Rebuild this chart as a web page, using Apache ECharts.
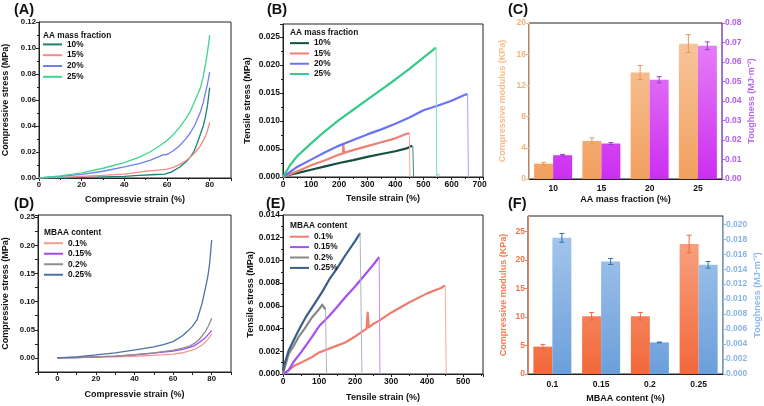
<!DOCTYPE html>
<html><head><meta charset="utf-8">
<script src="https://cdn.jsdelivr.net/npm/echarts@6/dist/echarts.min.js"></script>
<style>html,body{margin:0;padding:0;background:#fff}#c{width:764px;height:406px}</style>
</head><body><div id="c"></div>
<script>
// ---------- DATA ----------
// (A) compressive stress-strain, AA mass fraction
const A_10 = [[0,0],[10,0.0002],[20,0.0005],[30,0.0009],[40,0.0013],[47,0.002],[55,0.0027],[59,0.003],[62,0.0045],[66,0.0085],[69,0.0125],[71,0.0162],[72.5,0.02],[74,0.026],[75.6,0.0335],[77,0.04],[78,0.047],[79,0.056],[80,0.0695]];
const A_15 = [[0,0],[10,0.0005],[20,0.0013],[30,0.002],[40,0.003],[47,0.0045],[52,0.0055],[57,0.0063],[60,0.0068],[63,0.0082],[66,0.0105],[69,0.0135],[71,0.0162],[73.3,0.0198],[75.6,0.0245],[78,0.032],[79,0.0365],[80,0.0428]];
const A_20 = [[0,0],[10,0.0012],[20,0.0028],[30,0.0052],[40,0.0085],[47,0.0111],[52,0.0135],[56.8,0.0168],[58.6,0.0182],[59.2,0.0195],[59.6,0.0178],[61,0.019],[63,0.021],[66,0.025],[69,0.0305],[71,0.035],[73,0.0405],[75.6,0.0505],[77,0.058],[78,0.0655],[79,0.0725],[80,0.0814]];
const A_25 = [[0,0],[10,0.0016],[20,0.004],[30,0.0075],[40,0.0118],[47.4,0.0162],[52,0.02],[56.8,0.025],[60,0.0288],[63,0.0335],[66.2,0.0395],[69,0.046],[71,0.0515],[73,0.059],[75.6,0.069],[77,0.078],[78,0.087],[79,0.097],[80,0.110]];
// (B) tensile stress-strain, AA mass fraction
const B_10 = [[0,0],[25,0.0004],[50,0.0007],[100,0.0013],[150,0.0019],[200,0.0025],[250,0.003],[300,0.0036],[350,0.0041],[400,0.0046],[440,0.0051],[460,0.0056]];
const B_15 = [[0,0],[50,0.001],[100,0.0021],[150,0.003],[200,0.004],[213,0.0042],[215,0.0057],[217,0.0043],[250,0.0048],[300,0.0055],[350,0.0062],[400,0.0069],[440,0.0077],[450,0.0078]];
const B_20 = [[0,0],[50,0.0018],[100,0.0031],[150,0.0044],[200,0.0056],[250,0.0066],[300,0.0076],[350,0.0085],[400,0.0095],[450,0.0106],[500,0.0119],[550,0.0127],[600,0.0136],[650,0.0147],[657,0.0148]];
const B_25 = [[0,0],[25,0.0021],[50,0.0037],[100,0.006],[150,0.0082],[200,0.0102],[250,0.012],[300,0.0138],[350,0.0156],[400,0.0174],[450,0.0193],[500,0.0213],[540,0.0229],[545,0.0231]];
const B_10_drop = [[462,0.0055],[465,0]];
const B_15_drop = [[450,0.0078],[452,0]];
const B_20_drop = [[657,0.0148],[660,0]];
const B_25_drop = [[545,0.0231],[547,0],[550,0.0004],[556,0.0003],[560,0.0004]];
// (C) bars, AA mass fraction
const catsC = ['10','15','20','25'];
const modC = [1.97,4.88,13.66,17.35];
const modCErr = [0.17,0.4,0.9,1.15];
const toughC = [0.0122,0.0182,0.0509,0.0683];
const toughCErr = [0.0004,0.0005,0.0016,0.002];
// (D) compressive stress-strain, MBAA content
const D_01 = [[0,0],[10,0.0005],[20,0.0012],[30,0.002],[40,0.003],[50,0.0045],[56,0.0058],[60,0.0066],[65,0.0092],[67,0.011],[70,0.014],[72.4,0.0172],[75,0.023],[76.7,0.028],[78,0.033],[79,0.0375],[80,0.0426]];
const D_015 = [[0,0],[10,0.0008],[20,0.0018],[30,0.0032],[40,0.0056],[50,0.0085],[60,0.012],[65,0.0152],[70.6,0.021],[73,0.026],[76.7,0.036],[78,0.041],[79,0.0445],[80,0.0486]];
const D_02 = [[0,0],[10,0.0008],[20,0.0018],[30,0.0033],[40,0.0058],[50,0.0088],[60.2,0.0138],[65,0.0175],[68.9,0.0215],[72,0.028],[74.1,0.035],[76.7,0.0467],[78,0.055],[79,0.062],[80,0.0705]];
const D_025 = [[0,0],[10,0.002],[20,0.0053],[30,0.009],[42.9,0.0155],[50,0.0195],[55,0.0235],[60,0.029],[65,0.04],[68,0.049],[70,0.056],[72.4,0.0675],[75,0.097],[77,0.128],[78,0.145],[79,0.170],[80,0.2097]];
// (E) tensile stress-strain, MBAA content
const E_01 = [[0,0],[10,0.0002],[35,0.0008],[50,0.001],[81,0.0015],[100,0.0019],[150,0.0025],[174,0.0028],[200,0.0033],[232,0.004],[235,0.0054],[238,0.0041],[250,0.0044],[267,0.0047],[300,0.0054],[350,0.0063],[400,0.0071],[440,0.0076],[450,0.0078]];
const E_015 = [[0,0],[15,0.0003],[30,0.0011],[50,0.0019],[81,0.0033],[100,0.0042],[128,0.0051],[150,0.0059],[174,0.0068],[200,0.0077],[221,0.0085],[250,0.0096],[267,0.0103]];
const E_02 = [[0,0],[5,0.0006],[16,0.0018],[30,0.0025],[44,0.0033],[60,0.004],[81,0.005],[100,0.0057],[109,0.0061],[115,0.0058],[118,0.0057]];
const E_025 = [[0,0.0003],[2,0.0006],[16,0.0021],[44,0.0039],[65,0.0051],[90,0.0063],[110,0.0073],[128,0.0083],[150,0.0093],[174,0.0105],[200,0.0117],[214,0.0124]];
const E_01_drop = [[450,0.0078],[453,0]];
const E_015_drop = [[267,0.0103],[269,0]];
const E_02_drop = [[118,0.0057],[121,0]];
const E_025_drop = [[214,0.0124],[219,0]];
// (F) bars, MBAA content
const catsF = ['0.1','0.15','0.2','0.25'];
const modF = [4.8,10.13,10.13,22.83];
const modFErr = [0.4,0.65,0.65,1.55];
const toughF = [0.01818,0.01502,0.00422,0.01458];
const toughFErr = [0.00058,0.0004,0.00005,0.00044];

// ---------- CHART ----------
const FF = "'Liberation Sans', Arial, sans-serif";
const chart = echarts.init(document.getElementById('c'), null, {renderer:'canvas'});
const G = echarts.graphic;

function valAxis(gi, o) {
  return {
    type:'value', gridIndex: gi, min:o.min, max:o.max, interval:o.interval,
    name:o.name||'', nameLocation:'middle', nameGap:o.nameGap,
    nameTextStyle:{fontFamily:FF,fontWeight:'bold',fontSize:9,color:o.nameColor||'#111'},
    axisLine:{show:true,onZero:false,lineStyle:{color:o.lineColor||'#222',width:1}},
    axisTick:{show:true,inside:false,length:3,lineStyle:{color:o.lineColor||'#222'}},
    minorTick:{show:o.minor!==false,splitNumber:2,length:2,lineStyle:{color:o.lineColor||'#222'}},
    splitLine:{show:false},
    axisLabel:{fontFamily:FF,fontWeight:'bold',fontSize:o.fs||8,color:o.labelColor||'#111',margin:3,
      showMaxLabel:o.showMax!==false, formatter:o.fmt},
    position:o.position
  };
}
const fx = d => v => v.toFixed(d);

const grids = [
  {left:39, top:22, width:192, height:156},  // A
  {left:283, top:24, width:200, height:153}, // B
  {left:529, top:23, width:193, height:156}, // C
  {left:38, top:215, width:193, height:157}, // D
  {left:283, top:215, width:200, height:159},// E
  {left:528, top:216, width:195, height:158} // F
].map(g => Object.assign({show:true, borderColor:'#222', borderWidth:1, backgroundColor:'transparent'}, g));

const xAxes = [
  valAxis(0,{min:0,max:90,interval:20,name:'Compressvie strain (%)',nameGap:17,showMax:false,fs:7.8}),
  valAxis(1,{min:0,max:712,interval:100,name:'Tensile strain (%)',nameGap:17.5,showMax:false,fs:8.5}),
  {type:'category', gridIndex:2, data:catsC, name:'AA mass fraction (%)', nameLocation:'middle', nameGap:16,
    nameTextStyle:{fontFamily:FF,fontWeight:'bold',fontSize:9,color:'#111'},
    axisLine:{lineStyle:{color:'#222'}}, axisTick:{length:3,lineStyle:{color:'#222'}},
    axisLabel:{fontFamily:FF,fontWeight:'bold',fontSize:8.5,color:'#111',margin:5}},
  valAxis(3,{min:-10,max:90,interval:10,name:'Compressvie strain (%)',nameGap:18.5,minor:false,fs:7.8,
    fmt:v => (Math.round(v)%20===0 && v>=0 && v<=80) ? String(Math.round(v)) : ''}),
  valAxis(4,{min:0,max:555,interval:100,name:'Tensile strain (%)',nameGap:19,showMax:false,fs:8.5}),
  {type:'category', gridIndex:5, data:catsF, name:'MBAA content (%)', nameLocation:'middle', nameGap:20,
    nameTextStyle:{fontFamily:FF,fontWeight:'bold',fontSize:9,color:'#111'},
    axisLine:{lineStyle:{color:'#222'}}, axisTick:{length:3,lineStyle:{color:'#222'}},
    axisLabel:{fontFamily:FF,fontWeight:'bold',fontSize:8.5,color:'#111',margin:6}}
];
const yAxes = [
  valAxis(0,{min:0,max:0.12,interval:0.02,name:'Compressive stress (MPa)',nameGap:29,fmt:fx(2),fs:7.8}),
  valAxis(1,{min:0,max:0.0273,interval:0.005,name:'Tensile stress (MPa)',nameGap:31,fmt:fx(3),showMax:false,fs:8.5}),
  valAxis(2,{min:0,max:20,interval:4,name:'Compressive modulus (KPa)',nameGap:22,fs:8.5,position:'left',
    lineColor:'#f6b985',labelColor:'#f4b27a',nameColor:'#f6bd8a',minor:false}),
  valAxis(2,{min:0,max:0.08,interval:0.01,name:'Toughness (MJ\u00b7m\u207b\u00b3)',nameGap:25,fs:8.5,position:'right',
    lineColor:'#b45cf2',labelColor:'#b15bf0',nameColor:'#b868f0',fmt:fx(2),minor:false}),
  valAxis(3,{min:-0.025,max:0.254,interval:0.025,name:'Compressive stress (MPa)',nameGap:28,fs:7.8,minor:false,
    fmt:v => {const k=Math.round(v*1000); return (k>=0 && k%50===0) ? (k/1000).toFixed(2) : '';}}),
  valAxis(4,{min:0,max:0.014,interval:0.002,name:'Tensile stress (MPa)',nameGap:28,fmt:fx(3),fs:8.5}),
  valAxis(5,{min:0,max:27.75,interval:5,name:'Compressive modulus (KPa)',nameGap:20,fs:8.5,position:'left',
    lineColor:'#f47a50',labelColor:'#f2744a',nameColor:'#f47c54',showMax:false,minor:false}),
  valAxis(5,{min:0,max:0.0211,interval:0.002,name:'Toughness (MJ\u00b7m\u207b\u00b3)',nameGap:30,fs:8.5,position:'right',
    lineColor:'#8cb9e8',labelColor:'#86b4e6',nameColor:'#8db9e8',fmt:fx(3),showMax:false,minor:false})
];

function line(name, data, xi, yi, color, w) {
  return {type:'line', name:name, data:data, xAxisIndex:xi, yAxisIndex:yi, showSymbol:false, symbol:'none',
    lineStyle:{color:color, width:w, join:'round'}, itemStyle:{color:color}, animation:false, z:3};
}
function grad(top, bottom, c1, c2) {
  return new G.LinearGradient(0, top, 0, bottom, [{offset:0,color:c1},{offset:1,color:c2}], true);
}
function bars(name, vals, yi, xi, color) {
  return {type:'bar', name:name, data:vals, xAxisIndex:xi, yAxisIndex:yi, barWidth:19, barGap:'0%',
    itemStyle:{color:color}, animation:false};
}
function errs(vals, errsArr, xi, yi, offset, color) {
  return {type:'custom', xAxisIndex:xi, yAxisIndex:yi, animation:false, z:5,
    data: vals.map((v,i)=>[i, v, errsArr[i]]),
    renderItem:(params, api) => {
      const i = api.value(0), v = api.value(1), e = api.value(2);
      const t = api.coord([i, v+e]), b = api.coord([i, v-e]);
      const cx = t[0] + offset, st = {stroke:color, lineWidth:1};
      return {type:'group', children:[
        {type:'line', shape:{x1:cx,y1:t[1],x2:cx,y2:b[1]}, style:st},
        {type:'line', shape:{x1:cx-2.5,y1:t[1],x2:cx+2.5,y2:t[1]}, style:st},
        {type:'line', shape:{x1:cx-2.5,y1:b[1],x2:cx+2.5,y2:b[1]}, style:st}
      ]};
    }};
}

const cA = ['#1b8270','#f38a85','#6f7ff7','#3ed68e'];
const cB = ['#12503f','#f08072','#6a73f2','#35c98a'];
const cBd = ['#3a8a76','#f6a89f','#9ea4f8','#7ee0b2'];
const cD = ['#f5998f','#a648f5','#8e8e8e','#4d72a3'];
const cE = ['#f07c6c','#a54ff7','#888888','#3b5d87'];
const cEd = ['#f6a99e','#c58cfb','#b5b5b5','#a6b6cc'];

const series = [
  line('A 10%',A_10,0,0,cA[0],1.3), line('A 15%',A_15,0,0,cA[1],1.3), line('A 20%',A_20,0,0,cA[2],1.3), line('A 25%',A_25,0,0,cA[3],1.3),
  line('B 10%',B_10,1,1,cB[0],2.2), line('B 15%',B_15,1,1,cB[1],2.2), line('B 20%',B_20,1,1,cB[2],2.2), line('B 25%',B_25,1,1,cB[3],2.2),
  line('Bd1',B_10_drop,1,1,cBd[0],1), line('Bd2',B_15_drop,1,1,cBd[1],1), line('Bd3',B_20_drop,1,1,cBd[2],1), line('Bd4',B_25_drop,1,1,cBd[3],1),
  bars('modC', modC, 2, 2, grad(23,179,'#f8c9a3','#f2a05f')),
  bars('toughC', toughC, 3, 2, grad(23,179,'#e98af6','#cc2ef1')),
  errs(modC, modCErr, 2, 2, -9.5, '#ea9658'),
  errs(toughC, toughCErr, 2, 3, 9.5, '#9a3fdc'),
  line('D 0.1%',D_01,3,4,cD[0],1.3), line('D 0.15%',D_015,3,4,cD[1],1.3), line('D 0.2%',D_02,3,4,cD[2],1.3), line('D 0.25%',D_025,3,4,cD[3],1.3),
  line('E 0.1%',E_01,4,5,cE[0],2.2), line('E 0.15%',E_015,4,5,cE[1],2.2), line('E 0.2%',E_02,4,5,cE[2],2.2), line('E 0.25%',E_025,4,5,cE[3],2.2),
  line('Ed1',E_01_drop,4,5,cEd[0],1), line('Ed2',E_015_drop,4,5,cEd[1],1), line('Ed3',E_02_drop,4,5,cEd[2],1), line('Ed4',E_025_drop,4,5,cEd[3],1),
  bars('modF', modF, 6, 5, grad(216,374,'#f9ab8d','#f2683a')),
  bars('toughF', toughF, 7, 5, grad(216,374,'#abcaee','#6b9fdb')),
  errs(modF, modFErr, 5, 6, -9.5, '#ea6a40'),
  errs(toughF, toughFErr, 5, 7, 9.5, '#2f73b5')
];

function legend(names, left, top, gap) {
  return {orient:'vertical', left:left, top:top, padding:0, itemGap:0, itemWidth:19, itemHeight:2, icon:'rect',
    selectedMode:false, data:names, formatter: n => n.split(' ')[1],
    textStyle:{fontFamily:FF, fontWeight:'bold', fontSize:8.3, color:'#111', lineHeight:gap}};
}
function ttl(text, left, top, size) {
  return {text:text, left:left, top:top, padding:0, textStyle:{fontFamily:FF, fontWeight:'bold', fontSize:size, color:'#111'}};
}

chart.setOption({
  animation:false,
  backgroundColor:'#fff',
  grid: grids,
  xAxis: xAxes,
  yAxis: yAxes,
  series: series,
  legend: [
    legend(['A 10%','A 15%','A 20%','A 25%'], 43, 39, 10.8),
    legend(['B 10%','B 15%','B 20%','B 25%'], 290, 38, 10.3),
    legend(['D 0.1%','D 0.15%','D 0.2%','D 0.25%'], 44, 238, 10.5),
    legend(['E 0.1%','E 0.15%','E 0.2%','E 0.25%'], 290, 231.5, 10.4)
  ],
  title: [
    ttl('(A)', 14, 2, 14.5), ttl('(B)', 267, 2, 14.5), ttl('(C)', 508, 2, 14.5),
    ttl('(D)', 14, 196, 14.5), ttl('(E)', 266, 196, 14.5), ttl('(F)', 508, 196, 14.5),
    ttl('AA mass fraction', 43, 31.5, 8.3), ttl('AA mass fraction', 290, 29, 8.3),
    ttl('MBAA content', 44, 229, 8.3), ttl('MBAA content', 290, 222, 8.3)
  ]
});
</script></body></html>
